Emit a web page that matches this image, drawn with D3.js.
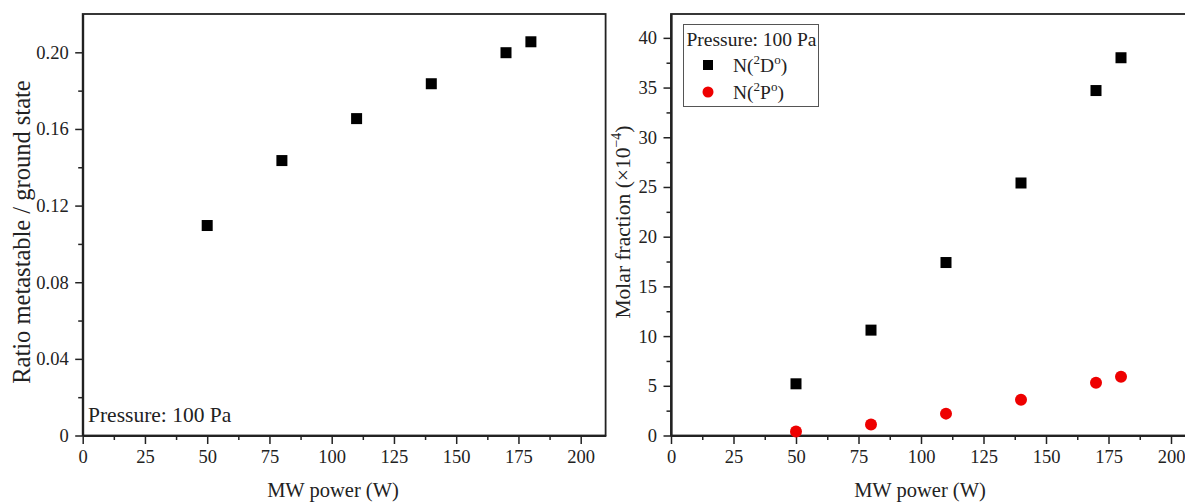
<!DOCTYPE html>
<html><head><meta charset="utf-8">
<script src="https://cdn.jsdelivr.net/npm/d3@7"></script>
<style>body{margin:0;background:#fff;} svg{display:block;} text{font-family:"Liberation Serif","Times New Roman",serif;fill:#222;}</style>
</head><body><svg id="c" width="1185" height="502"></svg>
<script>
const power = [50, 80, 110, 140, 170, 180];
const ratio = [0.1096, 0.1435, 0.1654, 0.1836, 0.1998, 0.2055];
const n2D = [5.2, 10.6, 17.4, 25.4, 34.7, 38.0];
const n2P = [0.4, 1.1, 2.2, 3.6, 5.3, 5.9];
const xTicks = [0, 25, 50, 75, 100, 125, 150, 175, 200];
const yTicksL = [0, 0.04, 0.08, 0.12, 0.16, 0.20];
const yTicksLLabels = ["0", "0.04", "0.08", "0.12", "0.16", "0.20"];
const yTicksR = [0, 5, 10, 15, 20, 25, 30, 35, 40];

const svg = d3.select("#c");
const plotTop = 14, plotBottom = 435.5;

function panel(opt) {
  const g = svg.append("g");
  const x = d3.scaleLinear().domain([0, 210]).range([opt.x0, opt.x0 + 210 * opt.pxu]);
  const y = d3.scaleLinear().domain([0, opt.ymax]).range([plotBottom, plotTop]);
  g.append("rect").attr("x", x(0)).attr("y", plotTop).attr("width", x(210) - x(0)).attr("height", plotBottom - plotTop)
    .attr("fill", "none").attr("stroke", "#222").attr("stroke-width", 1.8);
  g.append("g").attr("transform", `translate(0,${plotBottom})`)
    .call(d3.axisBottom(x).tickValues(xTicks).tickSize(8.5).tickSizeOuter(0).tickPadding(6));
  g.append("g").attr("transform", `translate(0,${plotBottom})`)
    .call(d3.axisBottom(x).tickValues(d3.range(12.5, 210, 25)).tickSize(4.5).tickSizeOuter(0).tickFormat(""));
  g.append("g").attr("transform", `translate(${x(0)},0)`)
    .call(d3.axisLeft(y).tickValues(opt.yTicks).tickFormat((d, i) => opt.yLabels[i]).tickSize(7.5).tickSizeOuter(0).tickPadding(6.5));
  g.append("g").attr("transform", `translate(${x(0)},0)`)
    .call(d3.axisLeft(y).tickValues(opt.minor).tickSize(4.5).tickSizeOuter(0).tickFormat(""));
  g.selectAll(".domain").attr("stroke", "#222").attr("stroke-width", 1.8);
  g.selectAll(".tick line").attr("stroke", "#222").attr("stroke-width", 1.5);
  g.selectAll(".tick text").style("font-family", '"Liberation Serif",serif').style("font-size", "18.5px").attr("fill", "#333");
  g.append("text").attr("x", opt.xTitleC).attr("y", 497).attr("text-anchor", "middle")
    .style("font-size", "20.5px").text("MW power (W)");
  return {g, x, y};
}

// Left panel
const L = panel({x0: 82.7, pxu: 2.49, ymax: 0.22, yTicks: yTicksL, yLabels: yTicksLLabels,
  minor: d3.range(0.02, 0.22, 0.04), xTitleC: 333});
L.g.append("text").attr("transform", "translate(30,232) rotate(-90)").attr("text-anchor", "middle")
  .style("font-size", "24.5px").text("Ratio metastable / ground state");
L.g.append("text").attr("x", 88).attr("y", 422).style("font-size", "21.5px").text("Pressure: 100 Pa");
L.g.selectAll(".sq").data(power).enter().append("rect")
  .attr("x", (d) => L.x(d) - 5.5).attr("y", (d, i) => L.y(ratio[i]) - 5.5).attr("width", 11).attr("height", 11).attr("fill", "#000");

// Right panel
const R = panel({x0: 671, pxu: 2.5, ymax: 42.4, yTicks: yTicksR, yLabels: yTicksR.map(String),
  minor: d3.range(2.5, 42.4, 5), xTitleC: 920});
const yt = R.g.append("text").attr("transform", "translate(630,222) rotate(-90)").attr("text-anchor", "middle")
  .style("font-size", "21.5px");
yt.append("tspan").text("Molar fraction (×10");
yt.append("tspan").attr("dy", -9).style("font-size", "14px").text("−4");
yt.append("tspan").attr("dy", 9).text(")");
R.g.selectAll(".sq").data(power).enter().append("rect")
  .attr("x", (d) => R.x(d) - 5.5).attr("y", (d, i) => R.y(n2D[i]) - 5.5).attr("width", 11).attr("height", 11).attr("fill", "#000");
R.g.selectAll(".ci").data(power).enter().append("circle")
  .attr("cx", (d) => R.x(d)).attr("cy", (d, i) => R.y(n2P[i])).attr("r", 6).attr("fill", "#ee0000");

// Legend
const lg = svg.append("g");
lg.append("rect").attr("x", 683.5).attr("y", 24.5).attr("width", 135).attr("height", 82)
  .attr("fill", "#fff").attr("stroke", "#555").attr("stroke-width", 1);
lg.append("text").attr("x", 686.5).attr("y", 46).style("font-size", "19.5px").text("Pressure: 100 Pa");
lg.append("rect").attr("x", 703).attr("y", 60).attr("width", 10).attr("height", 10).attr("fill", "#000");
lg.append("circle").attr("cx", 708).attr("cy", 92).attr("r", 5.5).attr("fill", "#ee0000");
function legText(yb, letter) {
  const t = lg.append("text").attr("x", 733).attr("y", yb).style("font-size", "19.5px");
  t.append("tspan").text("N(");
  t.append("tspan").attr("dy", -8).style("font-size", "13px").text("2");
  t.append("tspan").attr("dy", 8).text(letter);
  t.append("tspan").attr("dy", -8).style("font-size", "13px").text("o");
  t.append("tspan").attr("dy", 8).text(")");
}
legText(72, "D");
legText(99, "P");
</script></body></html>
